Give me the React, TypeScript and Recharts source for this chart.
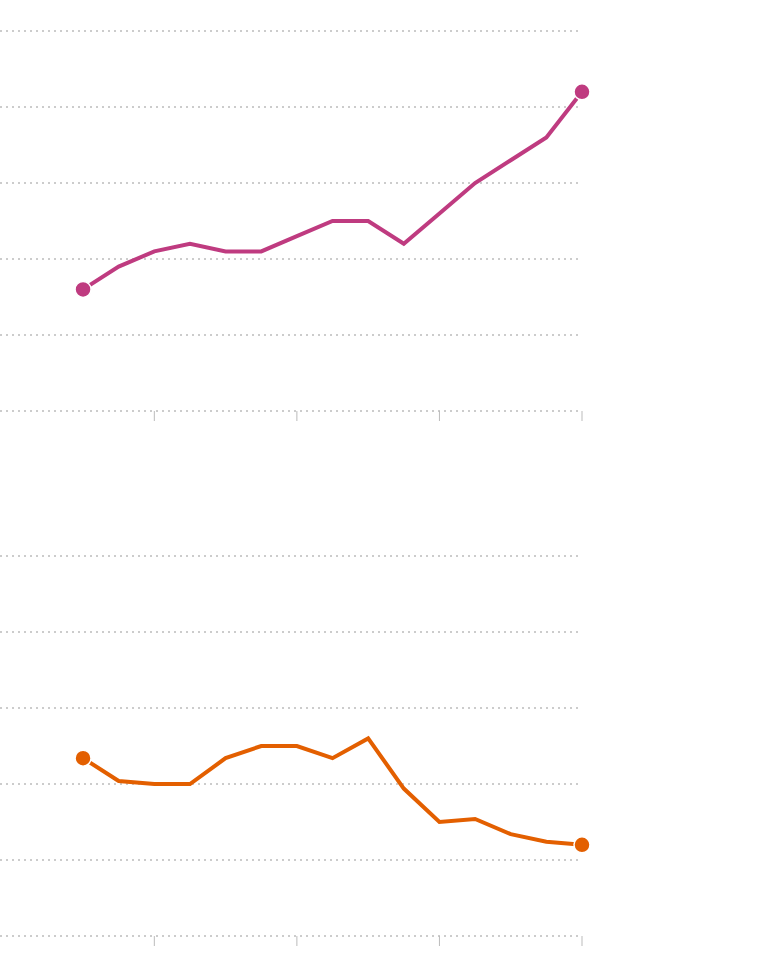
import React from 'react';
import { LineChart, Line, XAxis, YAxis, CartesianGrid } from 'recharts';

const years = [2008, 2009, 2010, 2011, 2012, 2013, 2014, 2015, 2016, 2017, 2018, 2019, 2020, 2021, 2022];
const xTicks = [2010, 2014, 2018, 2022];
const yTicks = [0, 5, 10, 15, 20, 25];

const pinkValues = [8.0, 9.5, 10.5, 11.0, 10.5, 10.5, 11.5, 12.5, 12.5, 11.0, 13.0, 15.0, 16.5, 18.0, 21.0];
const orangeValues = [11.7, 10.2, 10.0, 10.0, 11.7, 12.5, 12.5, 11.7, 13.0, 9.7, 7.5, 7.7, 6.7, 6.2, 6.0];

const PINK = '#bf3b80';
const ORANGE = '#e35f00';

const makeData = (values: number[]) => years.map((year, i) => ({ year, value: values[i] }));

const EndDot = (color: string, lastIndex: number) => (props: any) => {
  const { cx, cy, index } = props;
  if (index !== 0 && index !== lastIndex) return <g key={`d-${index}`} />;
  return <circle key={`d-${index}`} cx={cx} cy={cy} r={8} fill={color} stroke="#fff" strokeWidth={1.5} />;
};

const Panel = ({ values, color }: { values: number[]; color: string }) => (
  <LineChart
    width={760}
    height={455}
    data={makeData(values)}
    margin={{ top: 31, right: 178, left: 0, bottom: 14 }}
  >
    <CartesianGrid vertical={false} stroke="#999" strokeDasharray="2 4" />
    <XAxis
      dataKey="year"
      type="number"
      domain={[2005.67, 2022]}
      ticks={xTicks}
      axisLine={false}
      tickLine={{ stroke: '#bbb' }}
      tickSize={10}
      tick={() => <g />}
      height={30}
    />
    <YAxis hide domain={[0, 25]} ticks={yTicks} />
    <Line
      type="linear"
      dataKey="value"
      stroke={color}
      strokeWidth={4}
      dot={EndDot(color, values.length - 1)}
      activeDot={false}
      isAnimationActive={false}
    />
  </LineChart>
);

export default function App() {
  return (
    <div style={{ position: 'absolute', left: 0, top: 0, width: 760, height: 980, background: '#fff' }}>
      <div style={{ position: 'absolute', left: 0, top: 0 }}>
        <Panel values={pinkValues} color={PINK} />
      </div>
      <div style={{ position: 'absolute', left: 0, top: 525 }}>
        <Panel values={orangeValues} color={ORANGE} />
      </div>
    </div>
  );
}
